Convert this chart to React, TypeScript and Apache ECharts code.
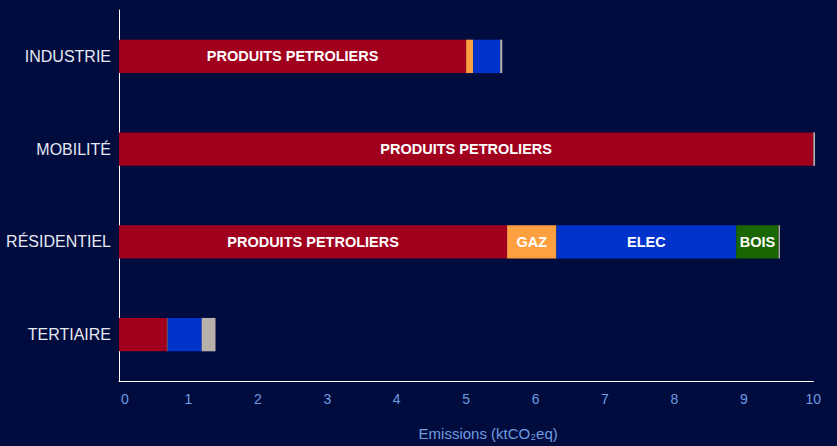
import React, { useEffect, useRef } from "react";
import * as echarts from "echarts";

const categories = ["INDUSTRIE", "MOBILITÉ", "RÉSIDENTIEL", "TERTIAIRE"];
const seriesNames = ["PRODUITS PETROLIERS", "GAZ", "ELEC", "BOIS", "AUTRE"];
const petrole = [5.0, 10.0, 5.59, 0.69];
const gaz = [0.1, 0, 0.71, 0.01];
const elec = [0.39, 0, 2.59, 0.49];
const bois = [0, 0, 0.61, 0];
const autre = [0.03, 0.025, 0.02, 0.2];
const xTicks = [0, 1, 2, 3, 4, 5, 6, 7, 8, 9, 10];

const colors = ["#A0001E", "#FFA040", "#0033CC", "#1A6600", "#B8B0AA"];
const labelMin = [3, 0.55, 0.55, 0.55, 99];
const FONT = "Liberation Sans, Arial, sans-serif";

export default function App() {
  const ref = useRef<HTMLDivElement>(null);
  useEffect(() => {
    if (!ref.current) return;
    const chart = echarts.init(ref.current, undefined, { renderer: "svg" });
    const dataSets = [petrole, gaz, elec, bois, autre];
    chart.setOption({
      animation: false,
      backgroundColor: "#000C3E",
      grid: { left: 119, right: 23.7, top: 10, bottom: 63, containLabel: false },
      xAxis: {
        type: "value",
        min: xTicks[0],
        max: xTicks[xTicks.length - 1],
        interval: 1,
        name: "Emissions (ktCO₂eq)",
        nameLocation: "middle",
        nameGap: 45,
        nameTextStyle: {
          color: "#6F9BE0",
          fontSize: 15,
          fontFamily: FONT,
          padding: [0, 0, 0, 44],
        },
        axisLine: { show: true, lineStyle: { color: "#FFFFFF", width: 1 } },
        axisTick: { show: false },
        splitLine: { show: false },
        axisLabel: {
          color: "#6F9BE0",
          fontSize: 14,
          margin: 11,
          fontFamily: FONT,
          alignMinLabel: "left",
          formatter: (v: number) => (v === 0 ? "{z|0}" : String(v)),
          rich: { z: { padding: [0, 0, 0, 2], color: "#6F9BE0", fontSize: 14, fontFamily: FONT } },
        },
      },
      yAxis: {
        type: "category",
        data: categories,
        inverse: true,
        axisLine: { show: true, lineStyle: { color: "#FFFFFF", width: 1 } },
        axisTick: { show: false },
        splitLine: { show: false },
        axisLabel: {
          color: "#E6E8F2",
          fontSize: 16,
          margin: 8,
          fontFamily: FONT,
        },
      },
      series: seriesNames.map((name, i) => ({
        name,
        type: "bar",
        stack: "total",
        barWidth: "36%",
        clip: false,
        itemStyle: { color: colors[i] },
        label: {
          show: true,
          position: "inside",
          color: "#FFFFFF",
          fontWeight: "bold",
          fontSize: 14.5,
          fontFamily: FONT,
          formatter: (p: any) => (p.value >= labelMin[i] ? name : ""),
        },
        data: dataSets[i],
      })),
    });
    return () => chart.dispose();
  }, []);
  return <div ref={ref} style={{ width: 837, height: 446, position: "absolute", left: 0, top: 0 }} />;
}
